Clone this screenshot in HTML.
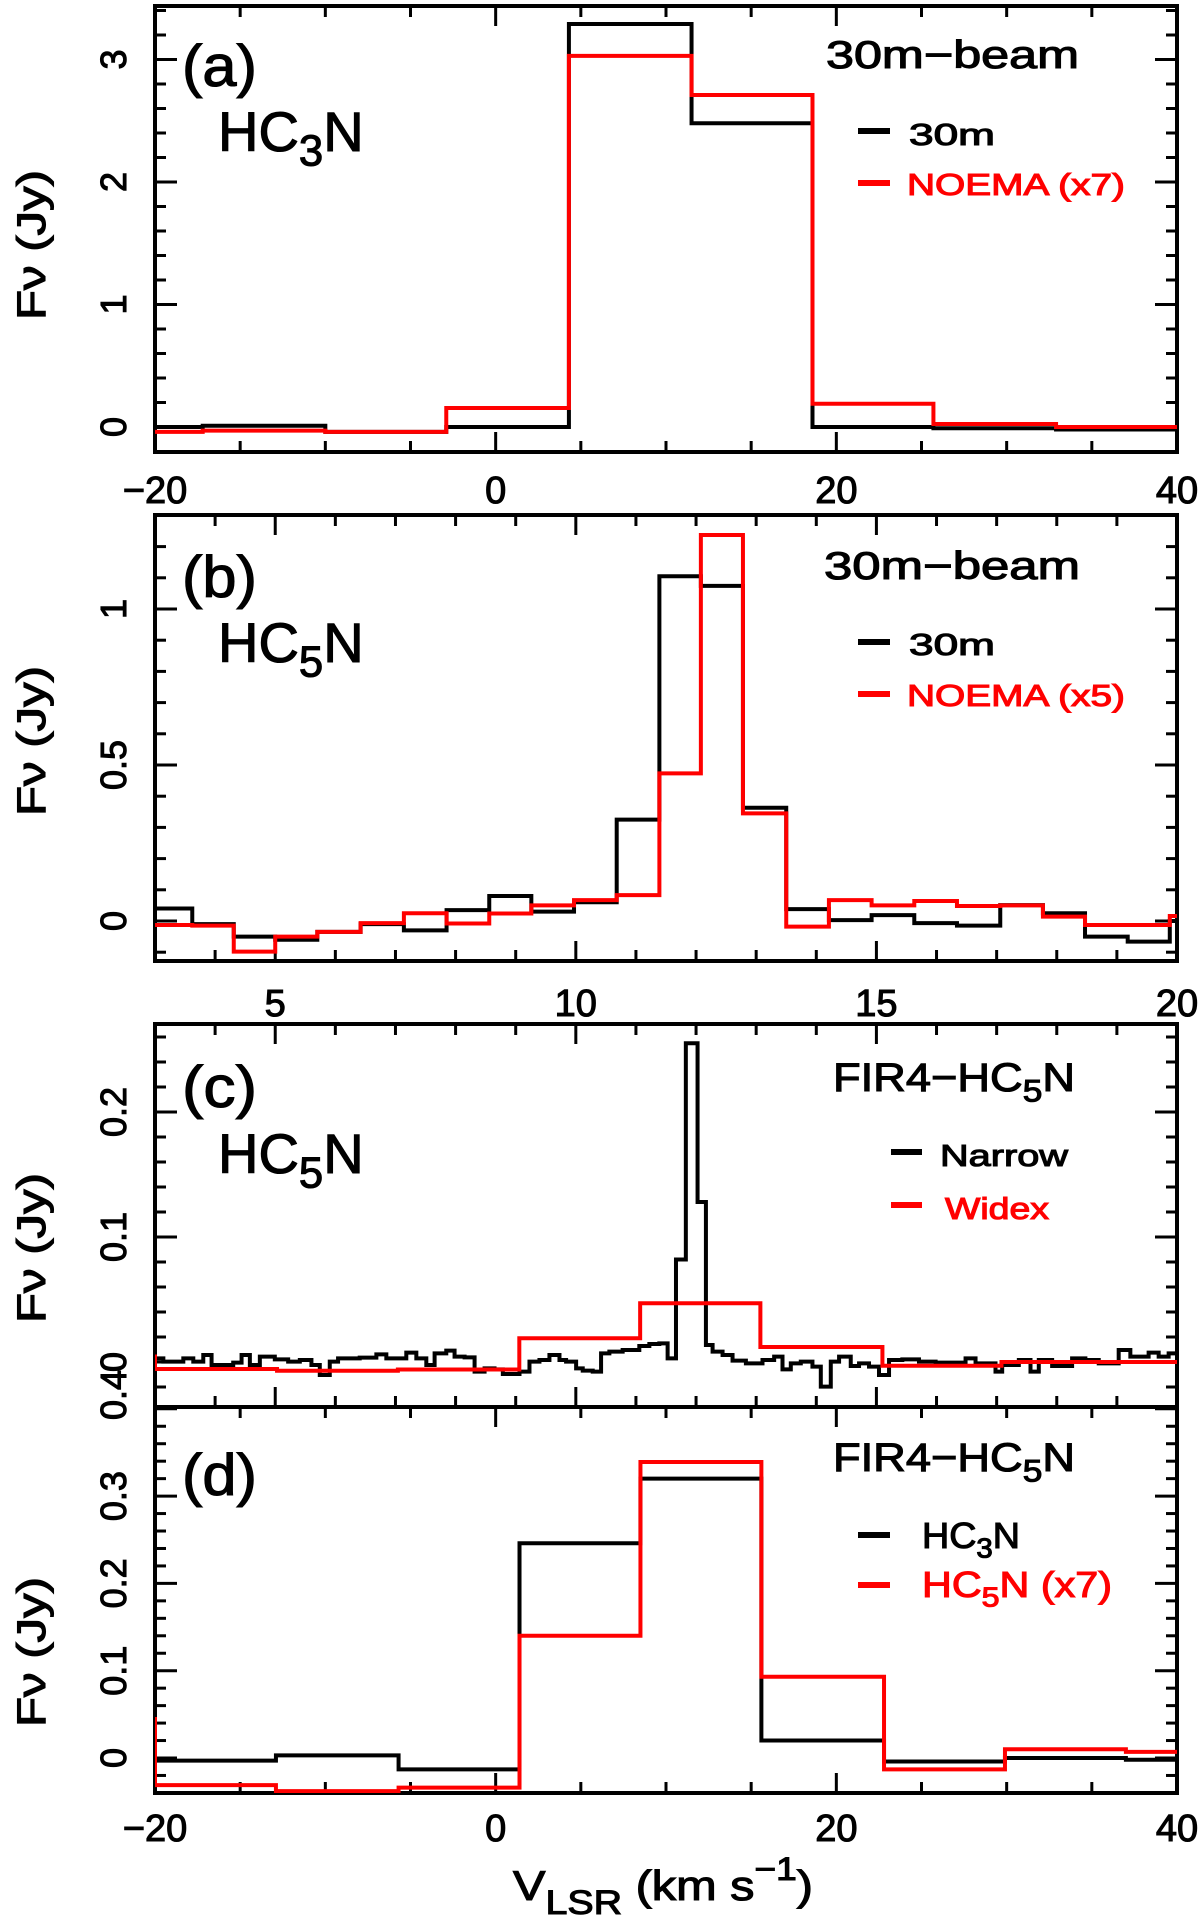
<!DOCTYPE html>
<html><head><meta charset="utf-8">
<style>
html,body{margin:0;padding:0;background:#fff;}
svg{display:block;}
text{font-family:"Liberation Sans",sans-serif;stroke-width:1.1px;}
</style></head>
<body>
<svg id="fig" width="1200" height="1922" viewBox="0 0 1200 1922" xmlns="http://www.w3.org/2000/svg">
<defs>
<clipPath id="clipA"><rect x="155" y="6" width="1022" height="446"/></clipPath>
<clipPath id="clipB"><rect x="155" y="515" width="1022" height="446"/></clipPath>
<clipPath id="clipC"><rect x="155" y="1024" width="1022" height="383"/></clipPath>
<clipPath id="clipD"><rect x="155" y="1407" width="1022" height="386"/></clipPath>
</defs>
<g id="layer"></g>
</svg>
<script>
// ---- Panel (a) HC3N 30m-beam ----
const aEdges = [-20, -17.2, -10.0, -2.9, 4.3, 11.5, 18.6, 25.7, 32.9, 40];
const aBlack = [0.0, 0.01, -0.04, 0.0, 3.29, 2.48, 0.0, -0.01, -0.02];
const aRed = [-0.04, -0.03, -0.04, 0.155, 3.03, 2.71, 0.19, 0.025, 0.0];
const aXTicks = [-20, 0, 20, 40];
const aYTicks = [0, 1, 2, 3];

// ---- Panel (b) HC5N 30m-beam ----
const bEdges = [3.0,3.62,4.31,5.0,5.7,6.42,7.14,7.85,8.56,9.26,9.97,10.68,11.39,12.08,12.78,13.5,14.21,14.92,15.63,16.34,17.06,17.77,18.47,19.18,19.88,20];
const bBlack = [0.04,-0.01,-0.05,-0.06,-0.035,-0.01,-0.03,0.035,0.08,0.03,0.06,0.325,1.105,1.074,0.363,0.038,0.003,0.019,-0.007,-0.015,0.051,0.025,-0.05,-0.066,0.0];
const bRed = [-0.013,-0.015,-0.098,-0.05,-0.035,-0.007,0.025,-0.008,0.024,0.05,0.067,0.083,0.473,1.237,0.345,-0.018,0.067,0.05,0.064,0.048,0.05,0.014,-0.013,-0.013,0.016];
const bXTicks = [5, 10, 15, 20];
const bYTicks = [0, 0.5, 1];

// ---- Panel (c) FIR4-HC5N narrow / widex ----
const cNarrowEdges = [3.0,3.139,3.471,3.637,3.803,3.941,4.301,4.44,4.578,4.744,4.993,5.215,5.409,5.602,5.741,5.907,6.045,6.405,6.682,6.848,7.18,7.347,7.513,7.651,7.845,7.983,8.15,8.316,8.482,8.648,8.786,9.063,9.229,9.395,9.561,9.728,9.838,10.005,10.115,10.281,10.42,10.558,10.779,11.056,11.223,11.389,11.527,11.666,11.83,12.025,12.164,12.275,12.441,12.607,12.829,13.105,13.299,13.438,13.576,13.742,13.936,14.075,14.241,14.379,14.573,14.711,14.877,15.043,15.21,15.431,15.708,15.985,16.483,16.649,16.981,17.092,17.369,17.563,17.701,17.923,18.255,18.476,18.698,19.03,19.224,19.528,19.695,19.861,20.0];
const cNarrow = [0.0029,0.0003,0.0029,0.0003,0.0056,-0.0024,-0.0005,0.0056,-0.0024,0.0043,0.0021,0.0003,0.0016,-0.0024,-0.0104,0.0003,0.0029,0.0035,0.0061,0.0029,0.0075,0.0029,-0.0024,0.0069,0.0091,0.0043,0.0037,-0.0077,-0.0051,-0.0059,-0.0096,-0.0077,0.0003,0.0016,0.0056,0.0016,0.0003,-0.0051,-0.0069,-0.0077,0.0069,0.0083,0.0096,0.0128,0.0144,0.0149,0.0029,0.082,0.255,0.128,0.0136,0.0083,0.0056,0.0011,-0.0011,0.0016,0.0043,-0.0059,-0.0011,0.0003,-0.0037,-0.0197,0.0003,0.0043,-0.0032,-0.0011,-0.0037,-0.0104,0.0016,0.0021,0.0003,-0.0005,0.0029,-0.0011,-0.0077,-0.0024,0.0016,-0.0077,0.0016,-0.0032,0.0029,0.0016,-0.0011,0.0096,0.0043,0.0075,0.0043,0.0069];
const cWideEdges = [3.0, 5.03, 7.04, 9.06, 11.07, 13.07, 15.1, 17.08, 20];
const cWide = [-0.0056, -0.007, -0.006, 0.019, 0.047, 0.012, -0.003, 0.0];
const cWideStart = 0.006;
const cYTicks = [0, 0.1, 0.2];

// ---- Panel (d) FIR4-HC5N HC3N vs HC5N ----
const dEdges = [-20, -12.9, -5.7, 1.4, 8.5, 15.6, 22.8, 29.9, 37.0, 40];
const dBlack = [-0.003, 0.003, -0.013, 0.246, 0.32, 0.02, -0.004, 0.0, -0.002];
const dRed = [-0.031, -0.038, -0.034, 0.14, 0.339, 0.093, -0.013, 0.01, 0.007];
const dRedStart = 0.047;
const dXTicks = [-20, 0, 20, 40];
const dYTicks = [0, 0.1, 0.2, 0.3];

const NS = "http://www.w3.org/2000/svg";
const layer = document.getElementById('layer');
const RED = '#ff0000';
const L = 155, R = 1177;

function mk(tag, attrs, parent) {
  const e = document.createElementNS(NS, tag);
  for (const k in attrs) e.setAttribute(k, attrs[k]);
  (parent || layer).appendChild(e);
  return e;
}
function linScale(d0, d1, r0, r1) { return v => r0 + (v - d0) * (r1 - r0) / (d1 - d0); }

function panel(p) {
  const g = mk('g', {});
  
  
  p.g = g;
  p.x = linScale(p.xmin, p.xmax, L, R);
  p.y = linScale(0, 1, p.zero, p.zero - p.unit);
  const tg = mk('g', {stroke: '#000', 'stroke-width': 3}, g);
  
  
  const nx = Math.round((p.xmax - p.xmin) / p.xMinor);
  for (let i = 0; i <= nx; i++) {
    const v = p.xmin + i * p.xMinor;
    const major = Math.abs(v / p.xMajor - Math.round(v / p.xMajor)) < 1e-6;
    const len = major ? 20 : 11;
    const xx = p.x(v);
    mk('line', {x1: xx, y1: p.top, x2: xx, y2: p.top + len}, tg);
    mk('line', {x1: xx, y1: p.bot, x2: xx, y2: p.bot - len}, tg);
  }
  const y0 = Math.ceil((p.zero - p.bot) / p.unit / p.yMinor - 1e-6);
  const y1 = Math.floor((p.zero - p.top) / p.unit / p.yMinor + 1e-6);
  for (let i = y0; i <= y1; i++) {
    const v = i * p.yMinor;
    const major = Math.abs(v / p.yMajor - Math.round(v / p.yMajor)) < 1e-6;
    const len = major ? 22 : 11;
    const yy = p.y(v);
    mk('line', {x1: L, y1: yy, x2: L + len, y2: yy}, tg);
    mk('line', {x1: R, y1: yy, x2: R - len, y2: yy}, tg);
  }
  const fr = mk('rect', {x: L, y: p.top, width: R - L, height: p.bot - p.top, fill: 'none', stroke: '#000', 'stroke-width': 4}, g);
  
  
}

function step(p, edges, vals, color, name, start) {
  let d = '';
  if (start !== undefined) d = 'M' + p.x(edges[0]) + ' ' + p.y(start) + ' V' + p.y(vals[0]);
  else d = 'M' + p.x(edges[0]) + ' ' + p.y(vals[0]);
  for (let i = 0; i < vals.length; i++) {
    if (i > 0) d += ' V' + p.y(vals[i]);
    d += ' H' + p.x(edges[i + 1]);
  }
  const path = mk('path', {d: d, fill: 'none', stroke: color, 'stroke-width': 4, 'stroke-linejoin': 'miter', 'clip-path': 'url(#' + p.clip + ')'}, p.g);
  
  
}

function txt(s, x, y, size, opts) {
  opts = opts || {};
  const col = opts.fill || '#000';
  const t = mk('text', {x: x, y: y, 'font-size': size, fill: col, stroke: col, 'text-anchor': opts.anchor || 'start'}, opts.parent);
  if (opts.len) { t.setAttribute('textLength', opts.len); t.setAttribute('lengthAdjust', 'spacingAndGlyphs'); }
  if (opts.rot) t.setAttribute('transform', 'rotate(-90 ' + x + ' ' + y + ')');
  t.textContent = s;
  return t;
}
function fmt(v) { return v < 0 ? '\u2212' + Math.abs(v) : String(v); }

function xLabels(p, ticks, y) {
  ticks.forEach(v => {
    const t = txt(fmt(v), p.x(v), y, 38, {anchor: 'middle'});
    
    
  });
}
function yLabels(p, ticks) {
  ticks.forEach(v => {
    const t = txt(String(v), 126, p.y(v), 36, {anchor: 'middle', rot: true});
    
    
  });
}
function yTitle(cy) {
  const t = mk('text', {x: 45, y: cy, 'font-size': 40, fill: '#000', stroke: '#000', 'stroke-width': 1.6, 'text-anchor': 'middle', transform: 'rotate(-90 45 ' + cy + ')', textLength: 150, lengthAdjust: 'spacingAndGlyphs'});
  t.textContent = 'F\u03BD (Jy)';
  
  
}
function chem(x, y, size, parts, fill, name, len) {
  const col = fill || '#000';
  const t = mk('text', {x: x, y: y, 'font-size': size, fill: col, stroke: col});
  if (len) { t.setAttribute('textLength', len); t.setAttribute('lengthAdjust', 'spacingAndGlyphs'); }
  
  
  parts.forEach(pt => {
    const ts = mk('tspan', {}, t);
    if (pt.sub) { ts.setAttribute('font-size', size * 0.78); ts.setAttribute('dy', size * 0.26); }
    else if (pt.after) { ts.setAttribute('dy', -size * 0.26); }
    ts.textContent = pt.s;
  });
  return t;
}
function legend(p, y, color, name) {
  const g = mk('g', {}, p.g);
  
  
  mk('line', {x1: 858, y1: y, x2: 890, y2: y, stroke: color, 'stroke-width': 6}, g);
  return g;
}

const PA = {id: 'a', top: 6, bot: 452, xmin: -20, xmax: 40, zero: 427, unit: 122.5, xMinor: 5, xMajor: 20, yMinor: 0.2, yMajor: 1, clip: 'clipA'};
const PB = {id: 'b', top: 515, bot: 961, xmin: 3, xmax: 20, zero: 921, unit: 312, xMinor: 1, xMajor: 5, yMinor: 0.1, yMajor: 0.5, clip: 'clipB'};
const PC = {id: 'c', top: 1024, bot: 1407, xmin: 3, xmax: 20, zero: 1362, unit: 1250, xMinor: 1, xMajor: 5, yMinor: 0.02, yMajor: 0.1, clip: 'clipC'};
const PD = {id: 'd', top: 1407, bot: 1793, xmin: -20, xmax: 40, zero: 1758, unit: 873, xMinor: 5, xMajor: 20, yMinor: 0.02, yMajor: 0.1, clip: 'clipD'};
[PA, PB, PC, PD].forEach(panel);

step(PA, aEdges, aBlack, '#000', 'series-30m-a');
step(PA, aEdges, aRed, RED, 'series-noema-a');
step(PB, bEdges, bBlack, '#000', 'series-30m-b');
step(PB, bEdges, bRed, RED, 'series-noema-b');
step(PC, cNarrowEdges, cNarrow, '#000', 'series-narrow-c');
step(PC, cWideEdges, cWide, RED, 'series-widex-c', cWideStart);
step(PD, dEdges, dBlack, '#000', 'series-hc3n-d');
step(PD, dEdges, dRed, RED, 'series-hc5n-d', dRedStart);

xLabels(PA, aXTicks, 503);
xLabels(PB, bXTicks, 1016);
xLabels(PD, dXTicks, 1841);
yLabels(PA, aYTicks);
yLabels(PB, bYTicks);
yLabels(PC, cYTicks);
yLabels(PD, dYTicks);
(function(){
  const t = txt('0.4', 126, 1395, 36, {anchor: 'middle', rot: true});
  
  
})();
yTitle(245); yTitle(741); yTitle(1248); yTitle(1652);

(function(){
  const t = mk('text', {x: 513, y: 1900, 'font-size': 42, fill: '#000', stroke: '#000', textLength: 300, lengthAdjust: 'spacingAndGlyphs'});
  
  
  const a = mk('tspan', {}, t); a.textContent = 'V';
  const b = mk('tspan', {'font-size': 34, dy: 14}, t); b.textContent = 'LSR';
  const c = mk('tspan', {dy: -14}, t); c.textContent = ' (km  s';
  const d = mk('tspan', {'font-size': 32, dy: -20}, t); d.textContent = '\u22121';
  const e = mk('tspan', {dy: 20}, t); e.textContent = ')';
})();

function label(s, x, y, size, len, name, fill, parent) {
  const t = txt(s, x, y, size, {len: len, fill: fill, parent: parent});
  
  
  return t;
}
label('(a)', 182, 86, 58, 75, 'panel-label-a');
chem(218, 151, 56, [{s:'HC'},{s:'3',sub:true},{s:'N',after:true}], '#000', 'molecule-label-a');
label('30m\u2212beam', 826, 68, 39, 253, 'beam-label-a');
let lg;
lg = legend(PA, 131, '#000', 'legend-entry-30m-a'); label('30m', 909, 145, 31, 86, 'legend-text', '#000', lg);
lg = legend(PA, 183, RED, 'legend-entry-noema-a'); label('NOEMA (x7)', 907, 195, 31, 218, 'legend-text', RED, lg);

label('(b)', 182, 597, 58, 75, 'panel-label-b');
chem(218, 662, 56, [{s:'HC'},{s:'5',sub:true},{s:'N',after:true}], '#000', 'molecule-label-b');
label('30m\u2212beam', 824, 579, 39, 256, 'beam-label-b');
lg = legend(PB, 642, '#000', 'legend-entry-30m-b'); label('30m', 909, 655, 31, 86, 'legend-text', '#000', lg);
lg = legend(PB, 694, RED, 'legend-entry-noema-b'); label('NOEMA (x5)', 907, 706, 31, 218, 'legend-text', RED, lg);

label('(c)', 182, 1107, 58, 75, 'panel-label-c');
chem(218, 1173, 56, [{s:'HC'},{s:'5',sub:true},{s:'N',after:true}], '#000', 'molecule-label-c');
chem(833, 1091, 40, [{s:'FIR4\u2212HC'},{s:'5',sub:true},{s:'N',after:true}], '#000', 'source-label-c', 242);
lg = mk('g', {}, PC.g);


mk('line', {x1: 891, y1: 1152, x2: 922, y2: 1152, stroke: '#000', 'stroke-width': 6}, lg);
label('Narrow', 940, 1166, 31, 128, 'legend-text', '#000', lg);
lg = mk('g', {}, PC.g);


mk('line', {x1: 891, y1: 1205, x2: 922, y2: 1205, stroke: RED, 'stroke-width': 6}, lg);
label('Widex', 945, 1219, 31, 104, 'legend-text', RED, lg);

label('(d)', 182, 1495, 58, 75, 'panel-label-d');
chem(833, 1471, 40, [{s:'FIR4\u2212HC'},{s:'5',sub:true},{s:'N',after:true}], '#000', 'source-label-d', 242);
lg = legend(PD, 1535, '#000', 'legend-entry-hc3n-d');
chem(922, 1548, 36, [{s:'HC'},{s:'3',sub:true},{s:'N',after:true}], '#000', 'legend-text', 98);
lg = legend(PD, 1585, RED, 'legend-entry-hc5n-d');
chem(922, 1597, 36, [{s:'HC'},{s:'5',sub:true},{s:'N (x7)',after:true}], RED, 'legend-text', 190);
</script>
</body></html>
